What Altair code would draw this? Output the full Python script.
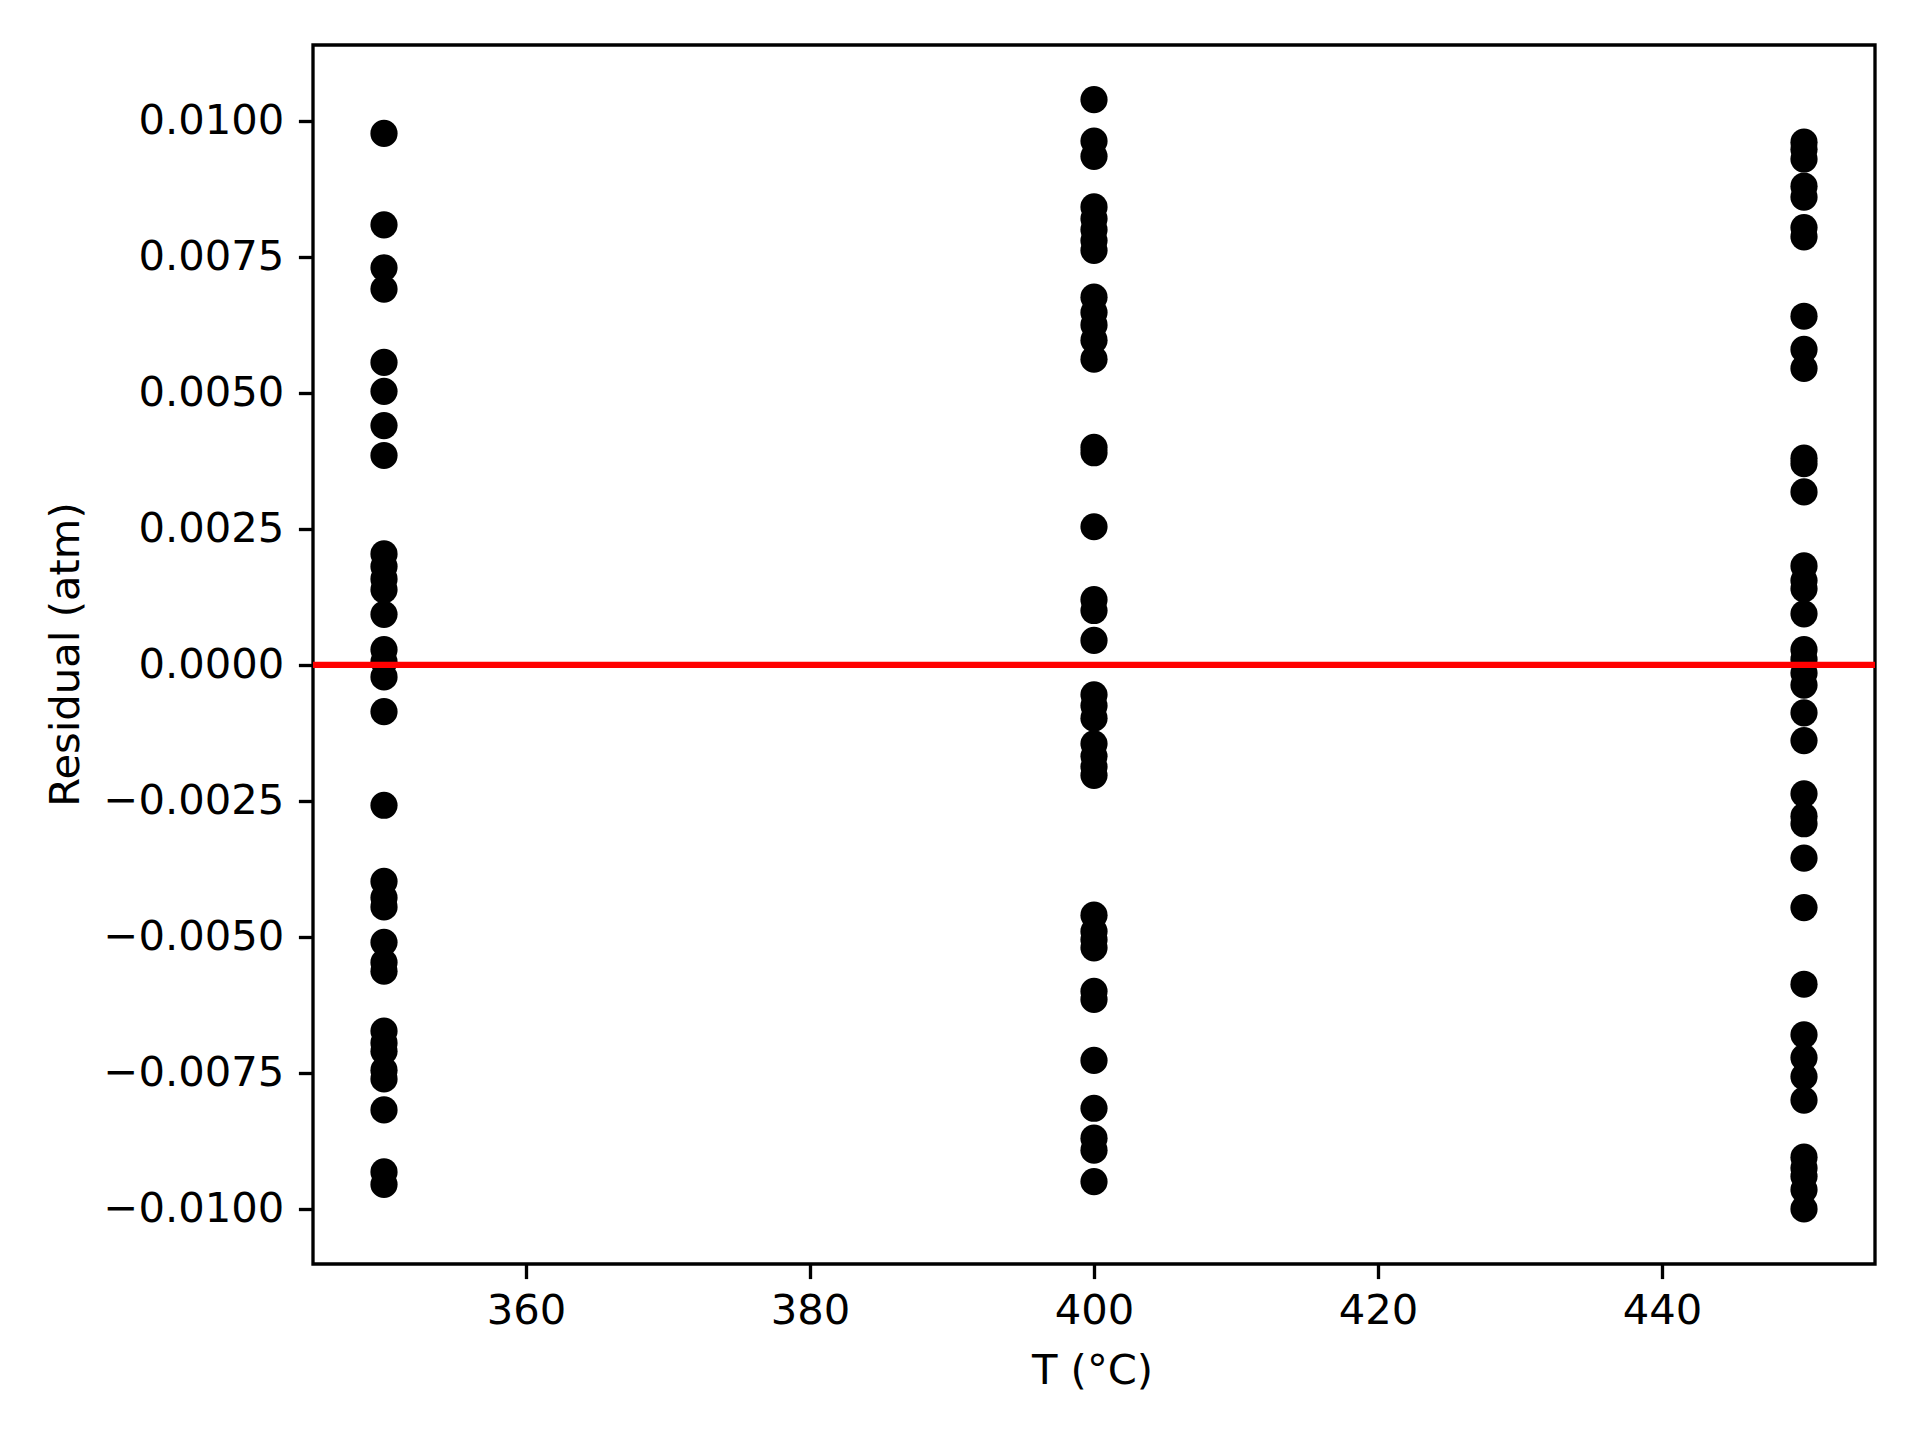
import altair as alt
import pandas as pd

# Temperatures (°C)
temps = [350, 400, 450]

# Residuals (atm), per temperature
res_350 = [0.00977, 0.00809, 0.00730, 0.00691, 0.00556, 0.00503, 0.00440, 0.00385,
           0.00204, 0.00181, 0.00158, 0.00138, 0.00093, 0.00028, 0.00006, -0.00022,
           -0.00086, -0.00258, -0.00398, -0.00428, -0.00445, -0.00510, -0.00547,
           -0.00563, -0.00673, -0.00695, -0.00710, -0.00745, -0.00761, -0.00818,
           -0.00932, -0.00955]
res_400 = [0.01039, 0.00963, 0.00935, 0.00842, 0.00820, 0.00800, 0.00780, 0.00762,
           0.00676, 0.00648, 0.00625, 0.00597, 0.00562, 0.00400, 0.00390, 0.00254,
           0.00120, 0.00100, 0.00045, -0.00055, -0.00075, -0.00098, -0.00145,
           -0.00168, -0.00187, -0.00203, -0.00460, -0.00490, -0.00505, -0.00520,
           -0.00600, -0.00615, -0.00727, -0.00815, -0.00870, -0.00892, -0.00950]
res_450 = [0.00961, 0.00948, 0.00930, 0.00880, 0.00860, 0.00804, 0.00787, 0.00641,
           0.00580, 0.00545, 0.00380, 0.00370, 0.00318, 0.00182, 0.00155, 0.00140,
           0.00094, 0.00028, 0.00010, -0.00015, -0.00037, -0.00088, -0.00139,
           -0.00237, -0.00278, -0.00292, -0.00355, -0.00446, -0.00587, -0.00680,
           -0.00722, -0.00757, -0.00800, -0.00905, -0.00925, -0.00940, -0.00965,
           -0.01000]

x_ticks = [360, 380, 400, 420, 440]
y_ticks = [-0.01, -0.0075, -0.005, -0.0025, 0.0, 0.0025, 0.005, 0.0075, 0.01]

rows = []
for t, vals in zip(temps, [res_350, res_400, res_450]):
    for v in vals:
        rows.append({"T": t, "Residual": v})
df = pd.DataFrame(rows)
zero_df = pd.DataFrame({"y": [0.0]})

FONT = "DejaVu Sans"
FS = 41.7

x_scale = alt.Scale(domain=[345, 455], nice=False, zero=False)
y_scale = alt.Scale(domain=[-0.011013, 0.011396], nice=False, zero=False)

points = alt.Chart(df).mark_circle(size=740, color="black", opacity=1).encode(
    x=alt.X("T:Q", scale=x_scale,
            axis=alt.Axis(title="T (°C)", values=x_ticks, format="d",
                          labelPadding=12,
                          titleX=779, titleY=119, titleBaseline="alphabetic",
                          titleAlign="center")),
    y=alt.Y("Residual:Q", scale=y_scale,
            axis=alt.Axis(title="Residual (atm)", values=y_ticks, format=".4f",
                          titleX=-235, titleY=609, titleAngle=-90,
                          titleBaseline="alphabetic", titleAlign="center")),
)

zero_line = alt.Chart(zero_df).mark_rule(color="#ff0000", strokeWidth=6.25).encode(
    y=alt.Y("y:Q", scale=y_scale)
)

chart = alt.layer(points, zero_line).properties(
    width=1562,
    height=1219,
    background="white",
    autosize=alt.AutoSizeParams(type="none"),
    padding={"left": 305, "top": 37, "right": 37, "bottom": 168},
).configure_view(
    stroke="black", strokeWidth=3.33
).configure_axis(
    domain=False, grid=False,
    ticks=True, tickColor="black", tickWidth=3.33, tickSize=14.6,
    labelFont=FONT, labelFontSize=FS, labelColor="black", labelPadding=14.6,
    labelLimit=500,
    titleFont=FONT, titleFontSize=FS, titleColor="black", titleFontWeight="normal",
    titleLimit=1000,
    labelFlush=False, labelOverlap=False,
)

chart.save("out.html", embed_options={"renderer": "svg", "actions": False})
